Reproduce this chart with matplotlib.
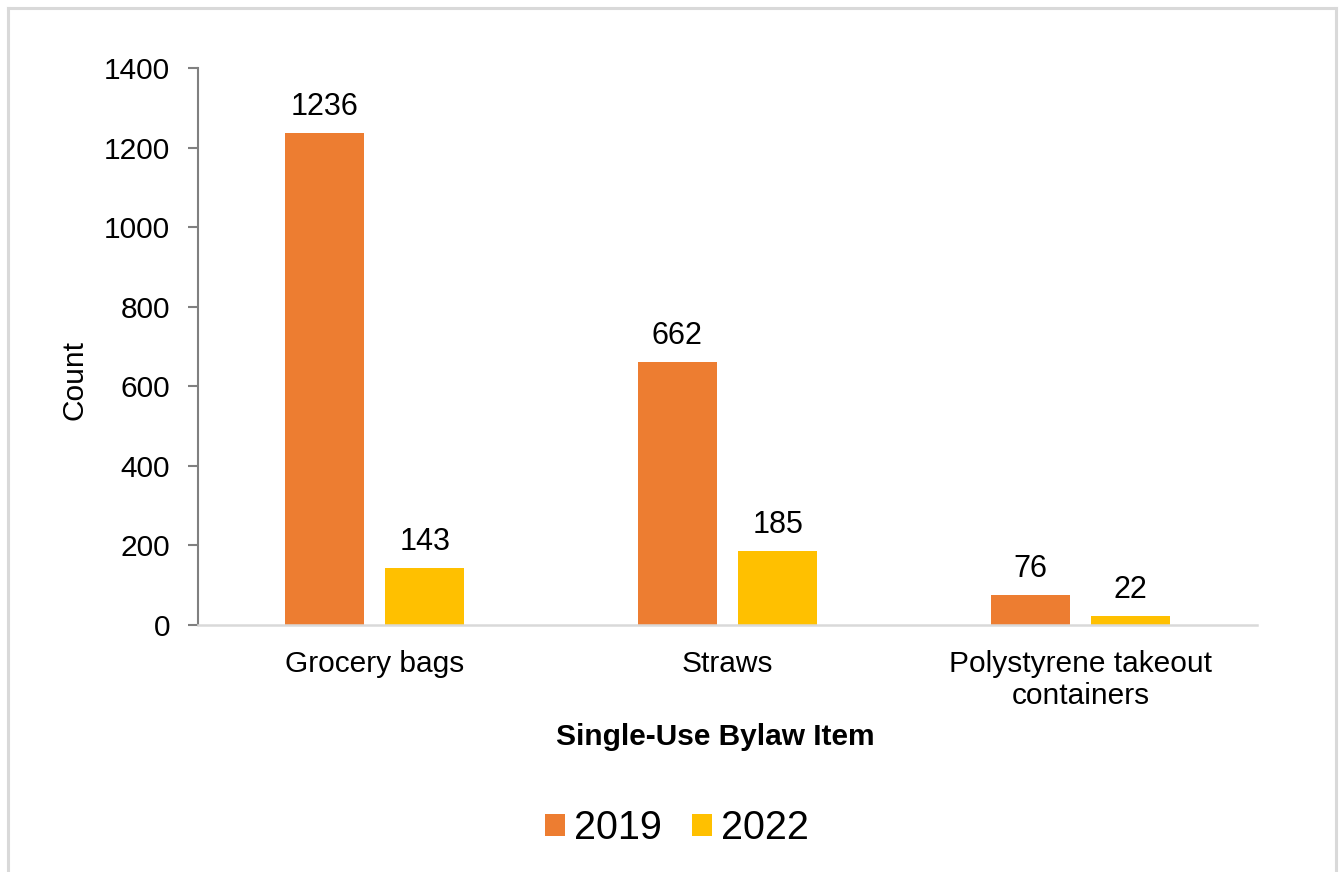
import matplotlib
matplotlib.use("Agg")
import matplotlib.pyplot as plt
import numpy as np
from matplotlib.lines import Line2D
from matplotlib.patches import Patch

# Counts of single-use items by bylaw category
categories = ["Grocery bags", "Straws", "Polystyrene takeout\ncontainers"]
series_names = ["2019", "2022"]
counts_2019 = [1236, 662, 76]
counts_2022 = [143, 185, 22]
y_ticks = [0, 200, 400, 600, 800, 1000, 1200, 1400]

colors = ["#ED7D31", "#FFC000"]

plt.rcParams["font.family"] = ["Liberation Sans", "DejaVu Sans"]

fig = plt.figure(figsize=(13.43, 8.72), dpi=100)
ax = fig.add_axes([198 / 1343, 1 - 625 / 872, (1257 - 198) / 1343, (625 - 68) / 872])

x = np.arange(len(categories))
width = 0.224
offset = 0.142

bars1 = ax.bar(x - offset, counts_2019, width, color=colors[0], label=series_names[0])
bars2 = ax.bar(x + offset, counts_2022, width, color=colors[1], label=series_names[1])

for bars in (bars1, bars2):
    ax.bar_label(bars, padding=8, fontsize=22, color="#000000")

ax.set_xlim(-0.5, len(categories) - 0.5)
ax.set_ylim(0, 1400)
ax.set_yticks(y_ticks)
ax.set_xticks(x)
ax.set_xticklabels(categories, fontsize=21.5, linespacing=1.2)
ax.tick_params(axis="y", labelsize=21.5, length=7, width=1.5, color="#808080", pad=13)
ax.tick_params(axis="x", length=0, pad=18)

for side in ("top", "right"):
    ax.spines[side].set_visible(False)
ax.spines["left"].set_color("#808080")
ax.spines["left"].set_linewidth(1.5)
ax.spines["bottom"].set_color("#D9D9D9")
ax.spines["bottom"].set_linewidth(1.8)

ax.set_ylabel("Count", fontsize=21.5)
ax.yaxis.set_label_coords((88 - 198) / 1059, (625 - 380) / 557)

fig.text(715 / 1343, 1 - 737 / 872, "Single-Use Bylaw Item", fontsize=21.5,
         fontweight="bold", ha="center", va="center")

handles = [Patch(facecolor=c, edgecolor="none") for c in colors]
fig.legend(handles, series_names, loc="center", bbox_to_anchor=(677 / 1343, 1 - 828 / 872),
           ncol=2, frameon=False, fontsize=28.5, handlelength=0.5, handleheight=0.5,
           handletextpad=0.23, columnspacing=0.75, borderaxespad=0, borderpad=0)

# Light frame around the chart area
frame_color = "#D9D9D9"
l, r, t = 8 / 1343, 1336 / 1343, 1 - 8 / 872
fig.add_artist(Line2D([l, r], [t, t], transform=fig.transFigure, color=frame_color, lw=2.2))
fig.add_artist(Line2D([l, l], [0, t], transform=fig.transFigure, color=frame_color, lw=2.2))
fig.add_artist(Line2D([r, r], [0, t], transform=fig.transFigure, color=frame_color, lw=2.2))

fig.savefig("out.png", dpi=100)
